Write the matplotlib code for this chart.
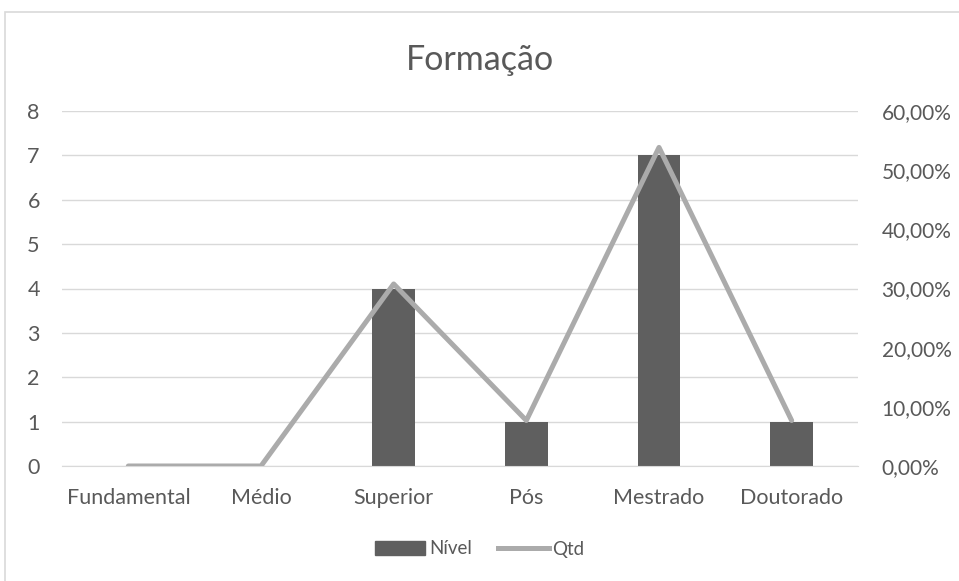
import numpy as np
import matplotlib.pyplot as plt
from matplotlib.patches import Rectangle
from matplotlib.lines import Line2D

categorias = ["Fundamental", "Médio", "Superior", "Pós", "Mestrado", "Doutorado"]
nivel = [0, 0, 4, 1, 7, 1]
qtd = [0.0, 0.0, 0.3077, 0.0769, 0.5385, 0.0769]

plt.rcParams['font.family'] = ['Lato', 'DejaVu Sans']
cor_texto = '#595959'
cor_linha = '#ababab'

fig = plt.figure(figsize=(9.59, 5.81), dpi=100)
fig.patches.append(Rectangle((5 / 959, -0.1), 1.2, (581 - 12) / 581 + 0.1,
                             transform=fig.transFigure, fill=False,
                             edgecolor='#d9d9d9', linewidth=1.2))

ax = fig.add_axes([62 / 959, 1 - 466 / 581, 796 / 959, 355 / 581])
x = np.arange(len(categorias))
ax.bar(x, nivel, width=0.32, color='#5f5f5f', zorder=2)
ax.set_xlim(-0.5, len(categorias) - 0.5)
ax.set_ylim(0, 8)
ax.set_yticks(range(0, 9))
ax.grid(axis='y', color='#d9d9d9', linewidth=1, zorder=0)
ax.set_axisbelow(True)
for s in ['top', 'right', 'left']:
    ax.spines[s].set_visible(False)
ax.spines['bottom'].set_color('#d9d9d9')
ax.set_xticks(x)
ax.set_xticklabels(categorias)
ax.tick_params(axis='both', length=0, labelsize=15.5, colors=cor_texto)
ax.tick_params(axis='y', pad=16)
ax.tick_params(axis='x', pad=16)

ax2 = ax.twinx()
ax2.plot(x, qtd, color=cor_linha, linewidth=3.6, solid_capstyle='round', zorder=3)
ax2.set_ylim(0, 0.6)
ax2.set_yticks(np.arange(0, 0.61, 0.1))
ax2.set_yticklabels([f"{v * 100:.2f}%".replace('.', ',') for v in np.arange(0, 0.61, 0.1)])
ax2.tick_params(axis='y', length=0, labelsize=15, colors=cor_texto, pad=17)
for s in ['top', 'right', 'left', 'bottom']:
    ax2.spines[s].set_visible(False)

fig.text(0.5, 1 - 60 / 581, "Formação", ha='center', va='center', fontsize=24.5, color=cor_texto)

handles = [Rectangle((0, 0), 1, 1, color='#5f5f5f'),
           Line2D([0], [0], color=cor_linha, linewidth=3.6)]
fig.legend(handles, ["Nível", "Qtd"], loc='center', bbox_to_anchor=(0.5, 1 - 549 / 581),
           ncol=2, frameon=False, fontsize=13.5, labelcolor=cor_texto,
           handlelength=2.7, handletextpad=0.2, columnspacing=1.4)

fig.savefig("out.png", dpi=100)
